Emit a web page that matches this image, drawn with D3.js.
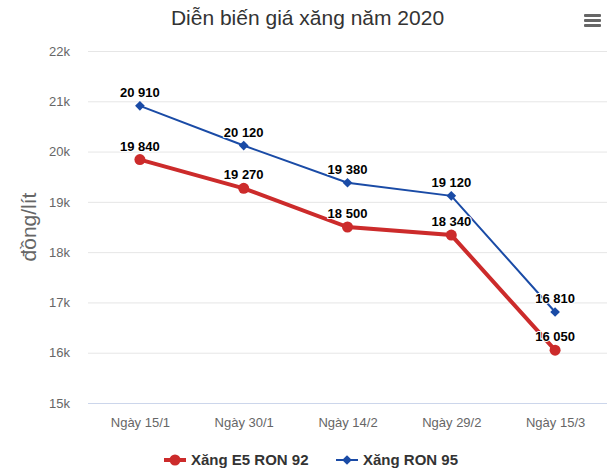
<!DOCTYPE html>
<html>
<head>
<meta charset="utf-8">
<script src="https://cdn.jsdelivr.net/npm/d3@7"></script>
<style>
  body { margin: 0; background: #fff; }
  text { font-family: "Liberation Sans", Arial, sans-serif; }
</style>
</head>
<body>
<div id="chart"></div>
<script>
var categories = ["Ngày 15/1", "Ngày 30/1", "Ngày 14/2", "Ngày 29/2", "Ngày 15/3"];
var e5Values = [19840, 19270, 18500, 18340, 16050];
var ron95Values = [20910, 20120, 19380, 19120, 16810];
var yTicks = [15000, 16000, 17000, 18000, 19000, 20000, 21000, 22000];
var seriesNames = ["Xăng E5 RON 92", "Xăng RON 95"];

var w = 615, h = 471;
var plotLeft = 88, plotRight = 607, plotTop = 51, plotBottom = 403;

var svg = d3.select("#chart").append("svg")
    .attr("width", w)
    .attr("height", h);

var x = d3.scalePoint().domain(categories).range([plotLeft, plotRight]).padding(0.5);
var y = d3.scaleLinear().domain([15000, 22000]).range([plotBottom, plotTop]);

function fmt(v) { return d3.format(",")(v).replace(/,/g, " "); }

// title
svg.append("text")
    .attr("x", w / 2)
    .attr("y", 25)
    .attr("text-anchor", "middle")
    .attr("font-size", 21)
    .attr("fill", "#333333")
    .text("Diễn biến giá xăng năm 2020");

// menu icon
[0, 5, 10].forEach(function (d) {
    svg.append("rect")
        .attr("x", 584).attr("y", 14 + d)
        .attr("width", 17).attr("height", 3)
        .attr("rx", 1)
        .attr("fill", "#666666");
});

// grid
var yAxis = d3.axisLeft(y).tickValues(yTicks)
    .tickSize(-(plotRight - plotLeft))
    .tickFormat(function (d) { return (d / 1000) + "k"; });
var gy = svg.append("g").attr("transform", "translate(" + plotLeft + ",0)").call(yAxis);
gy.select(".domain").remove();
gy.selectAll(".tick line").attr("stroke", "#e6e6e6");
gy.selectAll(".tick line").filter(function (d) { return d === 15000; }).attr("stroke", "#ccd6eb");
gy.selectAll(".tick text")
    .attr("x", -18)
    .attr("font-size", 13)
    .attr("fill", "#666666")
    .style("font-family", "Liberation Sans, Arial, sans-serif");

// x axis labels
var xAxis = d3.axisBottom(x).tickSize(0);
var gx = svg.append("g").attr("transform", "translate(0," + plotBottom + ")").call(xAxis);
gx.select(".domain").remove();
gx.selectAll(".tick text")
    .attr("y", 15)
    .attr("font-size", 13)
    .attr("fill", "#666666")
    .style("font-family", "Liberation Sans, Arial, sans-serif");

// y title
svg.append("text")
    .attr("transform", "translate(36," + ((plotTop + plotBottom) / 2) + ") rotate(-90)")
    .attr("text-anchor", "middle")
    .attr("font-size", 21)
    .attr("fill", "#666666")
    .text("đồng/lít");

var line = d3.line()
    .x(function (d, i) { return x(categories[i]); })
    .y(function (d) { return y(d); });

var red = "#cc2b2b", blue = "#1a4ba6";

// E5 series
svg.append("path").datum(e5Values)
    .attr("d", line).attr("fill", "none")
    .attr("stroke", red).attr("stroke-width", 4);
svg.selectAll(".e5pt").data(e5Values).enter().append("circle")
    .attr("cx", function (d, i) { return x(categories[i]); })
    .attr("cy", function (d) { return y(d); })
    .attr("r", 5.5)
    .attr("fill", red);

// RON 95 series
svg.append("path").datum(ron95Values)
    .attr("d", line).attr("fill", "none")
    .attr("stroke", blue).attr("stroke-width", 2);
var diamond = d3.symbol().type(d3.symbolDiamond2).size(60);
svg.selectAll(".ronpt").data(ron95Values).enter().append("path")
    .attr("d", diamond)
    .attr("transform", function (d, i) { return "translate(" + x(categories[i]) + "," + y(d) + ")"; })
    .attr("fill", blue);

// labels
function labels(vals) {
    svg.selectAll(null).data(vals).enter().append("text")
        .attr("x", function (d, i) { return x(categories[i]); })
        .attr("y", function (d) { return y(d) - 9; })
        .attr("text-anchor", "middle")
        .attr("font-size", 13)
        .attr("font-weight", "bold")
        .attr("fill", "#000")
        .attr("stroke", "#fff")
        .attr("stroke-width", 2)
        .attr("paint-order", "stroke")
        .text(function (d) { return fmt(d); });
}
labels(e5Values);
labels(ron95Values);

// legend
var lg = svg.append("g").attr("transform", "translate(0,460)");
lg.append("line").attr("x1", 164).attr("x2", 186).attr("y1", 0).attr("y2", 0)
    .attr("stroke", red).attr("stroke-width", 4);
lg.append("circle").attr("cx", 175).attr("cy", 0).attr("r", 5.5).attr("fill", red);
lg.append("text").attr("x", 191).attr("y", 5).attr("font-size", 15).attr("font-weight", "bold")
    .attr("fill", "#333333").text(seriesNames[0]);
lg.append("line").attr("x1", 336).attr("x2", 358).attr("y1", 0).attr("y2", 0)
    .attr("stroke", blue).attr("stroke-width", 2);
lg.append("path").attr("d", diamond).attr("transform", "translate(347,0)").attr("fill", blue);
lg.append("text").attr("x", 363).attr("y", 5).attr("font-size", 15).attr("font-weight", "bold")
    .attr("fill", "#333333").text(seriesNames[1]);
</script>
</body>
</html>
